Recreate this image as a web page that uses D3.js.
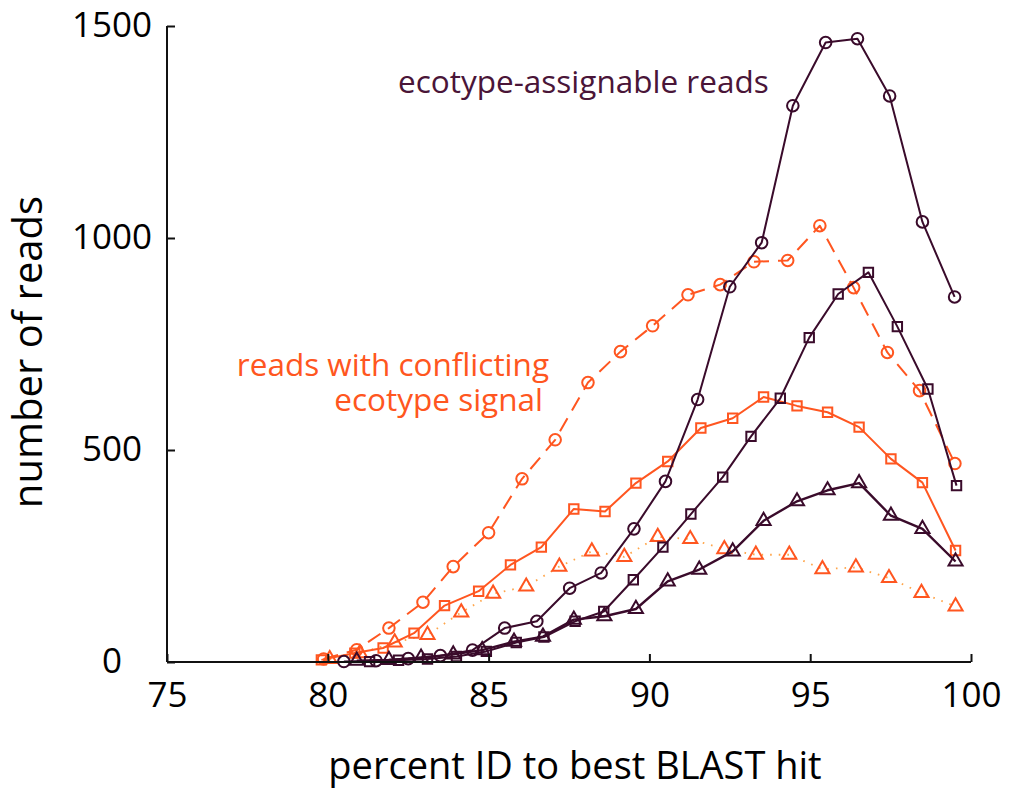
<!DOCTYPE html>
<html>
<head>
<meta charset="utf-8">
<script src="https://cdn.jsdelivr.net/npm/d3@7"></script>
<style>
  html, body { margin: 0; padding: 0; background: #fff; }
  svg { display: block; }
  text { font-family: "Open Sans", "Noto Sans", sans-serif; }
</style>
</head>
<body>
<svg id="chart" width="1013" height="790"></svg>
<script>
// Read counts binned by percent identity to the best BLAST hit
const xTicks = [75, 80, 85, 90, 95, 100];
const yTicks = [0, 500, 1000, 1500];

// ecotype-assignable reads (dark)
const assignAllX = [80.5, 81.5, 82.5, 83.5, 84.5, 85.5, 86.5, 87.52, 88.5, 89.52, 90.5, 91.5, 92.5, 93.49, 94.46, 95.48, 96.47, 97.47, 98.49, 99.49];
const assignAllY = [1, 3, 8, 15, 28, 80, 96, 174, 210, 314, 426, 619, 885, 989, 1312, 1461, 1470, 1335, 1038, 861];

const assignSqX = [81.3, 82.2, 83.1, 84.0, 84.93, 85.86, 86.72, 87.69, 88.58, 89.5, 90.42, 91.29, 92.28, 93.16, 94.07, 94.97, 95.87, 96.81, 97.71, 98.66, 99.55];
const assignSqY = [1, 4, 7, 13, 25, 46, 59, 96, 119, 194, 271, 349, 436, 532, 622, 765, 868, 919, 791, 644, 416];

const assignTriX = [80.9, 81.9, 82.9, 83.9, 84.8, 85.79, 86.69, 87.65, 88.6, 89.58, 90.57, 91.55, 92.59, 93.55, 94.59, 95.54, 96.52, 97.51, 98.49, 99.52];
const assignTriY = [3, 5, 10, 18, 28, 48, 60, 100, 108, 125, 190, 218, 261, 333, 379, 405, 422, 345, 314, 237];

// reads with conflicting ecotype signal (orange)
const conflictAllX = [79.87, 80.9, 81.9, 82.96, 83.9, 85.0, 86.04, 87.07, 88.09, 89.1, 90.1, 91.2, 92.2, 93.25, 94.3, 95.3, 96.35, 97.4, 98.4, 99.5];
const conflictAllY = [7, 29, 80, 141, 225, 305, 432, 524, 659, 732, 793, 866, 890, 944, 947, 1029, 883, 730, 640, 468];

const conflictSqX = [79.8, 80.84, 81.72, 82.68, 83.63, 84.69, 85.68, 86.64, 87.65, 88.62, 89.58, 90.57, 91.6, 92.59, 93.55, 94.59, 95.54, 96.52, 97.51, 98.49, 99.52];
const conflictSqY = [5, 21, 33, 68, 133, 167, 229, 271, 361, 355, 422, 473, 552, 575, 625, 604, 589, 554, 479, 423, 263];

const conflictTriX = [80.06, 81.0, 82.08, 83.1, 84.15, 85.14, 86.17, 87.2, 88.21, 89.22, 90.26, 91.27, 92.33, 93.31, 94.35, 95.38, 96.42, 97.45, 98.46, 99.52];
const conflictTriY = [7, 21, 46, 64, 117, 161, 178, 225, 261, 248, 295, 290, 266, 253, 253, 219, 223, 198, 163, 131];

const DARK = "#3a0b2b";
const DARK_TEXT = "#4a1538";
const ORANGE = "#ff5620";

const svg = d3.select("#chart");

const x = d3.scaleLinear().domain([75, 100]).range([167, 971]);
const y = d3.scaleLinear().domain([0, 1500]).range([662, 26]);

// series drawn back to front
const series = [
  { xs: conflictTriX, ys: conflictTriY, color: ORANGE, lineColor: "#ffa54a", dash: "1.6,7", width: 1.8, marker: "triangle" },
  { xs: conflictAllX, ys: conflictAllY, color: ORANGE, lineColor: ORANGE, dash: "15,9", width: 2, marker: "circle" },
  { xs: conflictSqX, ys: conflictSqY, color: ORANGE, lineColor: ORANGE, dash: null, width: 2, marker: "square" },
  { xs: assignTriX, ys: assignTriY, color: DARK, lineColor: DARK, dash: null, width: 2.4, marker: "triangle" },
  { xs: assignSqX, ys: assignSqY, color: DARK, lineColor: DARK, dash: null, width: 2, marker: "square" },
  { xs: assignAllX, ys: assignAllY, color: DARK, lineColor: DARK, dash: null, width: 2, marker: "circle" }
];

const line = d3.line().x(d => x(d[0])).y(d => y(d[1]));

const markerPath = {
  circle: d3.symbol().type(d3.symbolCircle).size(105),
  square: d3.symbol().type(d3.symbolSquare).size(88),
  triangle: d3.symbol().type(d3.symbolTriangle).size(86)
};

series.forEach(s => {
  const pts = s.xs.map((v, i) => [v, s.ys[i]]);
  const g = svg.append("g");
  g.append("path")
    .datum(pts)
    .attr("d", line)
    .attr("fill", "none")
    .attr("stroke", s.lineColor)
    .attr("stroke-width", s.width)
    .attr("stroke-linejoin", "round")
    .attr("stroke-dasharray", s.dash);
  g.selectAll("path.mk")
    .data(pts)
    .join("path")
    .attr("class", "mk")
    .attr("d", markerPath[s.marker])
    .attr("transform", d => `translate(${x(d[0])},${y(d[1])})`)
    .attr("fill", "none")
    .attr("stroke", s.color)
    .attr("stroke-width", 2);
});

// axes: left and bottom only, ticks pointing inward
const xAxis = d3.axisBottom(x).tickValues(xTicks).tickSize(-8).tickPadding(20).tickFormat(d3.format("d"));
const yAxis = d3.axisLeft(y).tickValues(yTicks).tickSize(-8).tickPadding(16).tickFormat(d3.format("d"));

const gx = svg.append("g").attr("transform", `translate(0,${y(0)})`).call(xAxis);
const gy = svg.append("g").attr("transform", `translate(${x(75)},0)`).call(yAxis);

[gx, gy].forEach(g => {
  g.select(".domain").attr("stroke", "#111").attr("stroke-width", 2);
  g.selectAll(".tick line").attr("stroke", "#111").attr("stroke-width", 2);
  g.selectAll(".tick text")
    .attr("fill", "#000")
    .style("font-family", "'Open Sans', sans-serif")
    .style("font-size", "35px");
});
// plain axis lines without end caps
gx.select(".domain").attr("d", `M${x(75)},0H${x(100)}`);
gy.select(".domain").attr("d", `M0,${y(0)}V${y(1500)}`);
gx.selectAll(".tick text").attr("dy", "0.71em");
// y tick labels are centred in a column left of the axis
gy.selectAll(".tick text")
  .attr("text-anchor", "middle")
  .attr("x", 112 - x(75))
  .attr("dy", "0.3em");

// axis titles
svg.append("text")
  .attr("x", 575).attr("y", 779)
  .attr("text-anchor", "middle")
  .style("font-size", "38px")
  .attr("fill", "#000")
  .text("percent ID to best BLAST hit");

svg.append("text")
  .attr("transform", "translate(42,352) rotate(-90)")
  .attr("text-anchor", "middle")
  .style("font-size", "40px")
  .attr("fill", "#000")
  .text("number of reads");

// series annotations
svg.append("text")
  .attr("x", 398).attr("y", 93)
  .style("font-size", "31.5px")
  .attr("fill", DARK_TEXT)
  .text("ecotype-assignable reads");

svg.append("text")
  .attr("x", 549).attr("y", 376)
  .attr("text-anchor", "end")
  .style("font-size", "31.5px")
  .attr("fill", ORANGE)
  .text("reads with conflicting");

svg.append("text")
  .attr("x", 543).attr("y", 411)
  .attr("text-anchor", "end")
  .style("font-size", "31.5px")
  .attr("fill", ORANGE)
  .text("ecotype signal");
</script>
</body>
</html>
